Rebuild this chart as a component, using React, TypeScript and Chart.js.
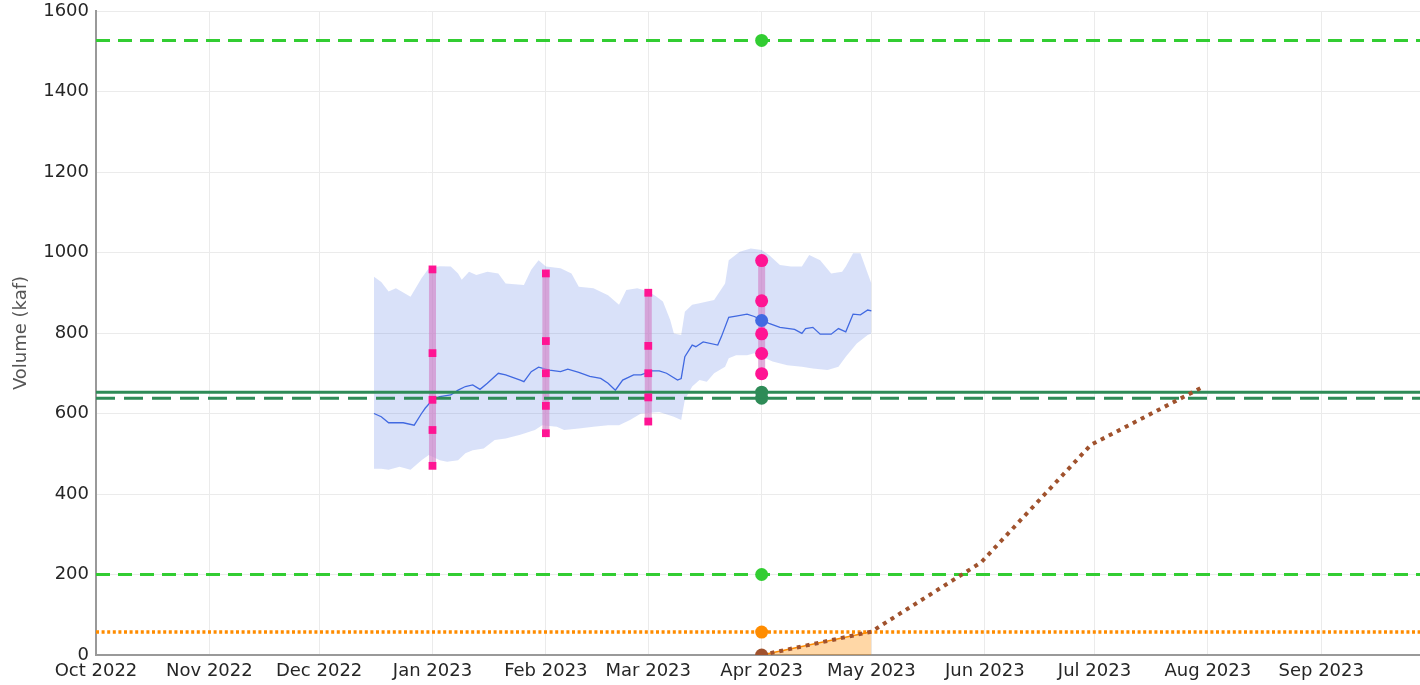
import React, { useEffect, useRef } from "react";
import { Chart, registerables } from "chart.js";

Chart.register(...registerables);

// ---------- axis definitions ----------
const X_START = "2022-10-01";
const X_END = "2023-09-28";
const MONTH_TICKS = [
  "2022-10-01", "2022-11-01", "2022-12-01", "2023-01-01", "2023-02-01", "2023-03-01",
  "2023-04-01", "2023-05-01", "2023-06-01", "2023-07-01", "2023-08-01", "2023-09-01",
];
const MONTH_LABELS = [
  "Oct 2022", "Nov 2022", "Dec 2022", "Jan 2023", "Feb 2023", "Mar 2023",
  "Apr 2023", "May 2023", "Jun 2023", "Jul 2023", "Aug 2023", "Sep 2023",
];
const Y_MIN = 0;
const Y_MAX = 1600;
const Y_STEP = 200;

// ---------- forecast band (upper / lower) ----------
const BAND_UPPER_DATES = [
  "2022-12-16", "2022-12-18", "2022-12-20", "2022-12-22", "2022-12-26", "2022-12-29", "2022-12-31",
  "2023-01-03", "2023-01-06", "2023-01-08", "2023-01-09", "2023-01-11", "2023-01-13", "2023-01-16",
  "2023-01-19", "2023-01-21", "2023-01-26", "2023-01-28", "2023-01-30", "2023-02-01", "2023-02-05",
  "2023-02-08", "2023-02-10", "2023-02-14", "2023-02-18", "2023-02-21", "2023-02-23", "2023-02-26",
  "2023-03-01", "2023-03-03", "2023-03-05", "2023-03-07", "2023-03-08", "2023-03-10", "2023-03-11",
  "2023-03-13", "2023-03-15", "2023-03-19", "2023-03-22", "2023-03-23", "2023-03-26", "2023-03-29",
  "2023-04-01", "2023-04-03", "2023-04-06", "2023-04-09", "2023-04-12", "2023-04-14", "2023-04-17",
  "2023-04-20", "2023-04-23", "2023-04-24", "2023-04-26", "2023-04-28", "2023-04-30", "2023-05-01",
];
const BAND_UPPER = [
  940, 927, 903, 911, 890, 936, 961,
  966, 965, 948, 932, 952, 944, 952,
  948, 923, 919, 957, 981, 965, 961,
  948, 915, 911, 894, 870, 907, 911,
  903, 892, 878, 832, 799, 795, 853,
  870, 874, 882, 923, 981, 1002, 1010,
  1006, 994, 969, 965, 965, 994, 981,
  948, 952, 965, 998, 998, 948, 923,
];
const BAND_LOWER_DATES = [
  "2022-12-16", "2022-12-18", "2022-12-20", "2022-12-23", "2022-12-26", "2022-12-29", "2022-12-31",
  "2023-01-03", "2023-01-05", "2023-01-08", "2023-01-10", "2023-01-12", "2023-01-15", "2023-01-18",
  "2023-01-21", "2023-01-25", "2023-01-29", "2023-01-31", "2023-02-04", "2023-02-06", "2023-02-10",
  "2023-02-14", "2023-02-18", "2023-02-21", "2023-02-24", "2023-02-27", "2023-03-04", "2023-03-08",
  "2023-03-10", "2023-03-11", "2023-03-13", "2023-03-15", "2023-03-17", "2023-03-19", "2023-03-22",
  "2023-03-23", "2023-03-25", "2023-03-28", "2023-03-30", "2023-04-02", "2023-04-04", "2023-04-08",
  "2023-04-12", "2023-04-15", "2023-04-19", "2023-04-22", "2023-04-24", "2023-04-27", "2023-04-30",
  "2023-05-01",
];
const BAND_LOWER = [
  463, 463, 460, 468, 460, 484, 497,
  484, 480, 484, 501, 509, 513, 534,
  538, 547, 559, 571, 567, 559, 563,
  567, 571, 571, 584, 600, 604, 592,
  584, 634, 667, 683, 679, 700, 716,
  737, 745, 745, 750, 737, 729, 720,
  716, 712, 708, 716, 741, 774, 795,
  799,
];

// ---------- forecast median ----------
const MEDIAN_DATES = [
  "2022-12-16", "2022-12-18", "2022-12-20", "2022-12-24", "2022-12-27", "2022-12-29", "2022-12-30",
  "2023-01-01", "2023-01-03", "2023-01-06", "2023-01-08", "2023-01-10", "2023-01-12", "2023-01-14",
  "2023-01-16", "2023-01-19", "2023-01-21", "2023-01-25", "2023-01-26", "2023-01-28", "2023-01-30",
  "2023-02-02", "2023-02-05", "2023-02-07", "2023-02-10", "2023-02-13", "2023-02-16", "2023-02-18",
  "2023-02-20", "2023-02-22", "2023-02-25", "2023-02-27", "2023-03-02", "2023-03-04", "2023-03-06",
  "2023-03-09", "2023-03-10", "2023-03-11", "2023-03-13", "2023-03-14", "2023-03-16", "2023-03-20",
  "2023-03-21", "2023-03-23", "2023-03-25", "2023-03-28", "2023-03-30", "2023-04-01", "2023-04-03",
  "2023-04-06", "2023-04-10", "2023-04-12", "2023-04-13", "2023-04-15", "2023-04-17", "2023-04-20",
  "2023-04-22", "2023-04-24", "2023-04-26", "2023-04-28", "2023-04-30", "2023-05-01",
];
const MEDIAN = [
  600, 592, 577, 577, 571, 600, 613,
  634, 642, 646, 658, 667, 671, 660,
  675, 700, 696, 683, 679, 704, 715,
  708, 704, 710, 702, 692, 687, 675,
  658, 683, 696, 696, 706, 706, 700,
  683, 687, 741, 770, 766, 778, 770,
  791, 839, 842, 847, 841, 832, 824,
  814, 809, 799, 811, 814, 797, 797,
  811, 803, 847, 845, 857, 855,
];

// ---------- ensemble members (monthly) ----------
const ENS_DATES = ["2023-01-01", "2023-02-01", "2023-03-01", "2023-04-01"];
const ENS_JAN = [958, 750, 634, 559, 470];
const ENS_FEB = [948, 780, 700, 619, 551];
const ENS_MAR = [900, 768, 700, 640, 580];
const ENS_APR = [980, 880, 798, 749, 699];
const ENS_VALUES = [ENS_JAN, ENS_FEB, ENS_MAR, ENS_APR];
const ENS_SHAPES = ["rect", "rect", "rect", "circle"];

// ---------- reference markers at Apr 1 ----------
const MARK_DATE = "2023-04-01";
const MEDIAN_MARK = 831;

// ---------- horizontal reference levels ----------
const LIME_LEVELS = [1527, 200];
const ORANGE_LEVEL = 57;
const DARKGREEN_SOLID = 653;
const DARKGREEN_DASHED = 638;

// ---------- projected path / observed fill ----------
const PROJ_DATES = ["2023-04-01", "2023-05-01", "2023-05-31", "2023-06-30", "2023-07-30"];
const PROJ = [0, 58, 230, 522, 663];
const OBS_FILL_DATES = ["2023-04-01", "2023-05-01"];
const OBS_FILL = [0, 58];

// ---------- helpers ----------
const dayOf = (s: string) => {
  const [y, m, d] = s.split("-").map(Number);
  return (Date.UTC(y, m - 1, d) - Date.UTC(2022, 9, 1)) / 86400000;
};
const pts = (dates: string[], vals: number[]) => dates.map((d, i) => ({ x: dayOf(d), y: vals[i] }));
const hline = (v: number) => [
  { x: dayOf(X_START), y: v },
  { x: dayOf(X_END) + 5, y: v },
];

const FONT = "'DejaVu Sans', 'Noto Sans', sans-serif";
const PINK = "#ff1493";
const BAR = "rgba(210,130,200,0.65)";
const LIME = "#32cd32";
const DKGREEN = "#2e8b57";
const ORANGE = "#ff8c00";
const BROWN = "#a0522d";
const BLUE = "#4169e1";

export default function App() {
  const ref = useRef<HTMLCanvasElement | null>(null);

  useEffect(() => {
    if (!ref.current) return;
    const base = { pointRadius: 0, pointHoverRadius: 0, fill: false, tension: 0 };
    const datasets: any[] = [];

    // 0: band upper
    datasets.push({ ...base, data: pts(BAND_UPPER_DATES, BAND_UPPER), borderWidth: 0, borderColor: "rgba(0,0,0,0)", order: 100 });
    // 1: band lower, filled up to dataset 0
    datasets.push({
      ...base,
      data: pts(BAND_LOWER_DATES, BAND_LOWER),
      borderWidth: 0,
      borderColor: "rgba(0,0,0,0)",
      fill: { target: 0 },
      backgroundColor: "rgba(65,105,225,0.2)",
      order: 99,
    });
    // median
    datasets.push({ ...base, data: pts(MEDIAN_DATES, MEDIAN), borderColor: BLUE, borderWidth: 1.3, order: 90 });
    // observed fill
    datasets.push({
      ...base,
      data: pts(OBS_FILL_DATES, OBS_FILL),
      borderColor: ORANGE,
      borderWidth: 1.5,
      fill: "origin",
      backgroundColor: "rgba(255,140,0,0.35)",
      order: 80,
    });
    // orange dotted level
    datasets.push({ ...base, data: hline(ORANGE_LEVEL), borderColor: ORANGE, borderWidth: 3.5, borderDash: [3, 2.6], order: 70 });
    // lime dashed levels
    LIME_LEVELS.forEach((v) =>
      datasets.push({ ...base, data: hline(v), borderColor: LIME, borderWidth: 3, borderDash: [14, 8], order: 60 })
    );
    // ensemble range bars
    ENS_DATES.forEach((d, i) => {
      const vals = ENS_VALUES[i];
      datasets.push({
        ...base,
        data: [
          { x: dayOf(d), y: Math.max(...vals) },
          { x: dayOf(d), y: Math.min(...vals) },
        ],
        borderColor: BAR,
        borderWidth: 7,
        order: 50,
      });
    });
    // dark green levels
    datasets.push({ ...base, data: hline(DARKGREEN_SOLID), borderColor: DKGREEN, borderWidth: 3, order: 40 });
    datasets.push({ ...base, data: hline(DARKGREEN_DASHED), borderColor: DKGREEN, borderWidth: 3, borderDash: [19, 9], order: 40 });
    // projected path
    datasets.push({ ...base, data: pts(PROJ_DATES, PROJ), borderColor: BROWN, borderWidth: 4, borderDash: [4, 5], order: 30 });
    // median marker
    datasets.push({
      ...base,
      data: [{ x: dayOf(MARK_DATE), y: MEDIAN_MARK }],
      showLine: false,
      pointRadius: 6.5,
      pointBackgroundColor: BLUE,
      pointBorderColor: BLUE,
      pointBorderWidth: 0,
      order: 20,
    });
    // ensemble markers
    ENS_DATES.forEach((d, i) => {
      datasets.push({
        ...base,
        data: ENS_VALUES[i].map((v) => ({ x: dayOf(d), y: v })),
        showLine: false,
        pointStyle: ENS_SHAPES[i],
        pointRadius: ENS_SHAPES[i] === "rect" ? 5.5 : 6.5,
        pointBackgroundColor: PINK,
        pointBorderColor: PINK,
        pointBorderWidth: 0,
        order: 10,
      });
    });
    // level markers at Apr 1
    const dots: [number, string][] = [
      [LIME_LEVELS[0], LIME],
      [LIME_LEVELS[1], LIME],
      [ORANGE_LEVEL, ORANGE],
      [DARKGREEN_SOLID, DKGREEN],
      [DARKGREEN_DASHED, DKGREEN],
      [PROJ[0], BROWN],
    ];
    dots.forEach(([v, c]) =>
      datasets.push({
        ...base,
        data: [{ x: dayOf(MARK_DATE), y: v }],
        showLine: false,
        pointRadius: 6.5,
        pointBackgroundColor: c,
        pointBorderColor: c,
        pointBorderWidth: 0,
        order: 5,
      })
    );

    const chart = new Chart(ref.current, {
      type: "line",
      data: { datasets },
      options: {
        animation: false,
        responsive: false,
        parsing: false as any,
        normalized: true,
        layout: { autoPadding: false, padding: { left: 8, right: 0, top: 0, bottom: 1 } },
        plugins: { legend: { display: false }, tooltip: { enabled: false } },
        events: [],
        scales: {
          x: {
            type: "linear",
            min: dayOf(X_START),
            max: dayOf(X_END),
            afterBuildTicks: (scale: any) => {
              scale.ticks = MONTH_TICKS.map((d) => ({ value: dayOf(d) }));
            },
            afterFit: (scale: any) => {
              scale.height = 29;
            },
            ticks: {
              autoSkip: false,
              maxRotation: 0,
              padding: 6,
              color: "#262626",
              font: { family: FONT, size: 18 },
              callback: (_v: any, i: number) => MONTH_LABELS[i],
            },
            grid: { color: "#ebebeb", lineWidth: 1, drawTicks: false },
            border: { color: "#999999", width: 2 },
          },
          y: {
            type: "linear",
            min: Y_MIN,
            max: Y_MAX,
            afterFit: (scale: any) => {
              scale.width = 88;
              scale.paddingTop = 11;
              scale.paddingBottom = 0;
            },
            ticks: {
              stepSize: Y_STEP,
              padding: 7,
              color: "#262626",
              font: { family: FONT, size: 18 },
              callback: (v: any) => String(v),
            },
            grid: { color: "#ebebeb", lineWidth: 1, drawTicks: false },
            border: { color: "#999999", width: 2 },
            title: {
              display: true,
              text: "Volume (kaf)",
              color: "#555555",
              font: { family: FONT, size: 18 },
              padding: { top: 3, bottom: 4 },
            },
          },
        },
      } as any,
    });
    return () => chart.destroy();
  }, []);

  return (
    <div style={{ position: "fixed", left: 0, top: 0, width: 1420, height: 685, background: "#fff" }}>
      <canvas ref={ref} width={1420} height={685} style={{ display: "block" }} />
    </div>
  );
}
